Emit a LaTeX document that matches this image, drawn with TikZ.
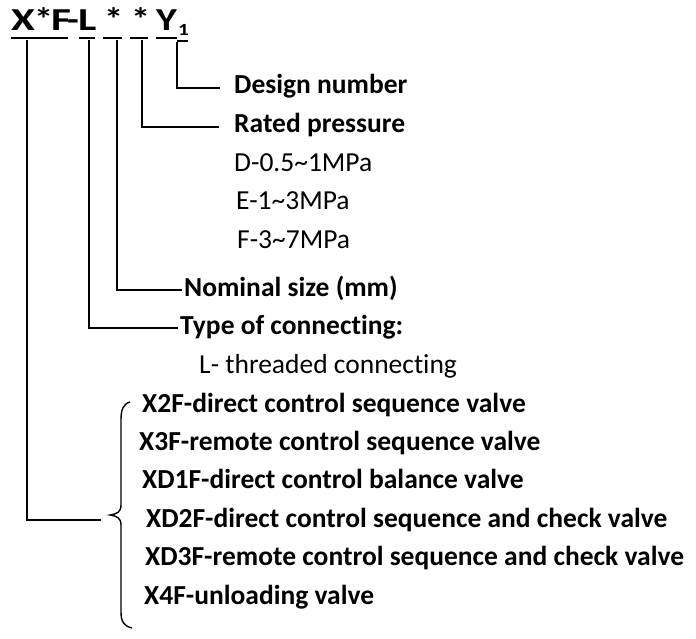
\documentclass[tikz,border=0pt]{standalone}
\usepackage{fontspec}
\setmainfont{Carlito}[Ligatures=NoCommon]
\newcommand\labfont{\fontsize{27.5pt}{33pt}\selectfont}
\newcommand\ttlfont{\fontsize{32pt}{36pt}\selectfont\bfseries}
\tikzset{
  lab/.style={anchor=west, inner sep=0pt, text height=18pt, text depth=6pt, font=\labfont},
  blab/.style={lab, font=\labfont\bfseries},
  ttl/.style={anchor=base west, inner sep=0pt, font=\ttlfont},
  conn/.style={line width=1.4pt, line cap=butt},
  uline/.style={line width=2.6pt}
}
\begin{document}
\begin{tikzpicture}[x=1pt,y=-1pt]
\useasboundingbox (0,0) rectangle (696,639);
% title
\node[ttl] (tX) at (11,31) {\scalebox{1.35}[1]{X}};
\node[ttl] (tS1) at (34,31) {\scalebox{1.2}[1]{*}};
\node[ttl] (tF) at (51,31) {\scalebox{1.35}[1]{F}};
\node[ttl] (tD) at (67,31) {\scalebox{1.2}[1]{-}};
\node[ttl] (tL) at (78,31) {\scalebox{1.35}[1]{L}};
\node[ttl] (tS2) at (104,31) {\scalebox{1.2}[1]{*}};
\node[ttl] (tS3) at (131,31) {\scalebox{1.2}[1]{*}};
\node[ttl] (tY) at (156,31) {\scalebox{1.25}[1]{Y}};
\node[ttl, font=\fontsize{17pt}{20pt}\selectfont\bfseries] (t1) at (178,36) {\scalebox{1.25}[1]{1}};
\draw[uline] (11,38) -- (68,38);
\draw[uline] (79,38) -- (95,38);
\draw[uline] (103,38) -- (122,38);
\draw[uline] (130,38) -- (148,38);
\draw[uline] (156,38) -- (177,38);
\draw[uline] (177,41) -- (188,41);
% starting points
\coordinate (v1) at (27,40);
\coordinate (v2) at (89,40);
\coordinate (v3) at (117,40);
\coordinate (v4) at (142,40);
\coordinate (v5) at (177,42);
% labels
\node[blab] (design) at (234,88) {Design number};
\node[blab] (rated) at (234,127) {Rated pressure};
\node[lab] (pd) at (234,166) {D-0.5\textasciitilde 1MPa};
\node[lab] (pe) at (236,204) {E-1\textasciitilde 3MPa};
\node[lab] (pf) at (237,242) {F-3\textasciitilde 7MPa};
\node[blab] (nominal) at (184,290) {Nominal size (mm)};
\node[blab] (type) at (180,328) {Type of connecting:};
\node[lab] (thr) at (199,367) {L- threaded connecting};
\node[blab] (i1) at (142,406) {X2F-direct control sequence valve};
\node[blab] (i2) at (139,444) {X3F-remote control sequence valve};
\node[blab] (i3) at (142,482) {XD1F-direct control balance valve};
\node[blab] (i4) at (146,521) {XD2F-direct control sequence and check valve};
\node[blab] (i5) at (145,559) {XD3F-remote control sequence and check valve};
\node[blab] (i6) at (144,598) {X4F-unloading valve};
% brace
\coordinate (btip) at (110,515);
\coordinate (bend) at (101,520);
\draw[conn] (130,402) .. controls (123,404) and (121,410) .. (121,420) -- (121,505)
  .. controls (121,512) and (117,514) .. (btip)
  .. controls (117,516) and (121,518) .. (121,525) -- (121,612)
  .. controls (121,622) and (124,626) .. (132,628);
% connectors
\draw[conn] (v5) |- ([xshift=-14pt]design.west);
\draw[conn] (v4) |- ([xshift=-15pt]rated.west);
\draw[conn] (v3) |- ([xshift=-2pt]nominal.west);
\draw[conn] (v2) |- ([xshift=-2pt]type.west);
\draw[conn] (v1) |- (bend);
\end{tikzpicture}
\end{document}
